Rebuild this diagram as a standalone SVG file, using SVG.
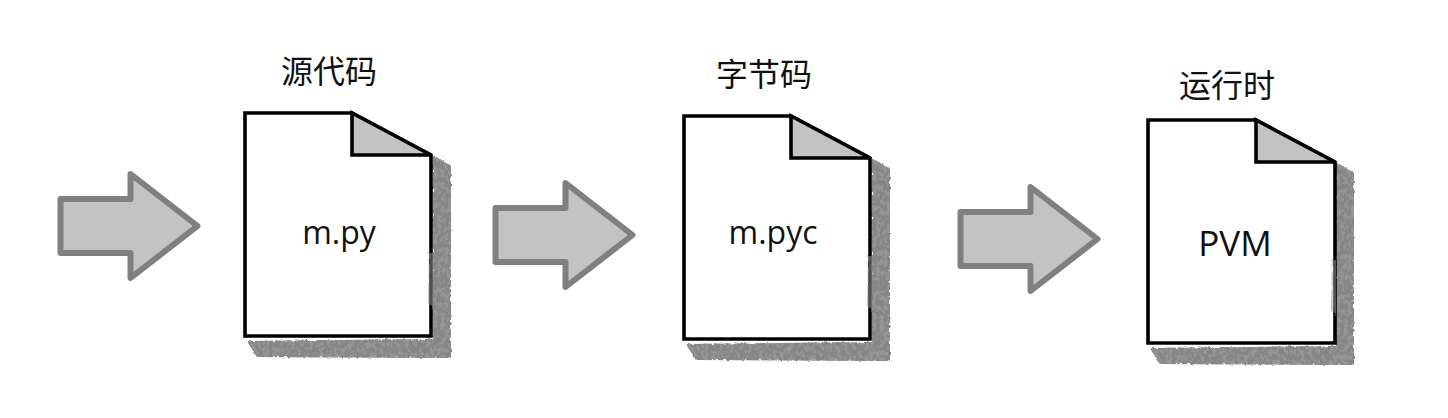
<svg xmlns="http://www.w3.org/2000/svg" width="1448" height="418" viewBox="0 0 1448 418">
<style>
.page{fill:#fff;stroke:#000;stroke-width:3.6;stroke-linejoin:miter}
.fold{fill:#c3c3c3;stroke:#000;stroke-width:3.6;stroke-linejoin:miter}
.shadow{fill:#868686;filter:url(#rough)}
.smear{fill:#9a9a9a;opacity:.55;filter:url(#rough)}
.arrow{fill:#c3c3c3;stroke:#808080;stroke-width:6;stroke-linejoin:round}
.title{font-family:"Noto Sans CJK SC","Noto Sans",sans-serif;font-size:32px;fill:#111;text-anchor:middle}
.name{font-family:"Open Sans","Noto Sans",sans-serif;font-size:32px;fill:#111;text-anchor:middle}
.big{font-size:35px}
</style>
<defs>
<filter id="rough" x="-5%" y="-5%" width="110%" height="110%">
<feTurbulence type="fractalNoise" baseFrequency="0.28 0.2" numOctaves="3" seed="4" result="n"/>
<feDisplacementMap in="SourceGraphic" in2="n" scale="3" xChannelSelector="R" yChannelSelector="G" result="d"/>
<feColorMatrix in="n" type="matrix" values="0 0 0 0 0 0 0 0 0 0 0 0 0 0 0 0 0 0 -7 4.2" result="m"/>
<feComposite in="d" in2="m" operator="in" result="t"/>
<feComponentTransfer in="d" result="under"><feFuncA type="linear" slope=".88"/></feComponentTransfer>
<feMerge><feMergeNode in="under"/><feMergeNode in="t"/></feMerge>
</filter>
<path id="shadow" class="shadow" d="M188 42L206 53L206 245L12 244L2 228L188 226Z"/>
<polygon id="arrow" class="arrow" points="0,27 70,27 70,2 137,54 70,106 70,81 0,81"/>
<path id="smear" class="smear" d="M184 140L188 140L188 195L183 190Z"/>
</defs>
<g id="connectors">
<use href="#arrow" x="60.5" y="172"/>
<use href="#arrow" x="495.5" y="181"/>
<use href="#arrow" x="960.5" y="185"/>
</g>
<g id="source">
<use href="#shadow" x="245" y="113"/>
<path class="page" d="M245 113H352L431 155V336H245Z"/>
<path class="fold" d="M352 113V155H431Z"/>
<use href="#smear" x="245" y="113"/>
<text class="title" x="329" y="83">源代码</text>
<text class="name" x="339" y="244">m.py</text>
</g>
<g id="bytecode">
<use href="#shadow" x="684" y="116"/>
<path class="page" d="M684 116H791L870 158V339H684Z"/>
<path class="fold" d="M791 116V158H870Z"/>
<use href="#smear" x="684" y="116"/>
<text class="title" x="764" y="86">字节码</text>
<text class="name" x="773" y="244">m.pyc</text>
</g>
<g id="runtime">
<use href="#shadow" x="1148" y="120"/>
<path class="page" d="M1148 120H1256L1335 162V343H1148Z"/>
<path class="fold" d="M1256 120V162H1335Z"/>
<use href="#smear" x="1148" y="120"/>
<text class="title" x="1227" y="97">运行时</text>
<text class="name big" x="1235" y="256">PVM</text>
</g>
</svg>
